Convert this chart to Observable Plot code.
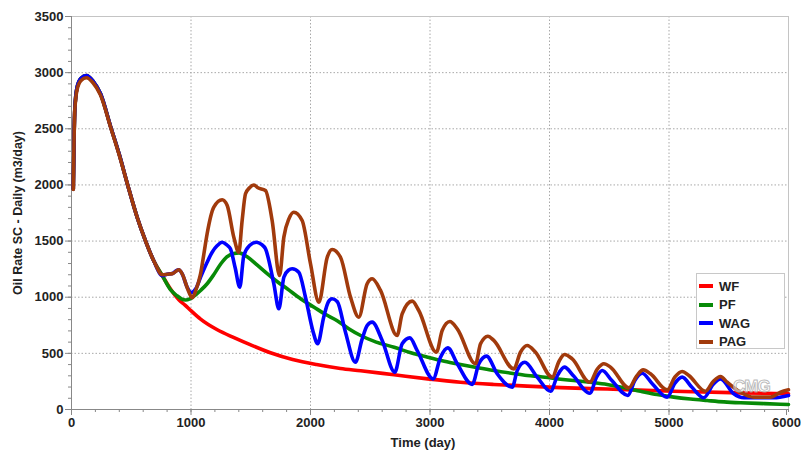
<!DOCTYPE html>
<html>
<head>
<meta charset="utf-8">
<script src="https://cdn.jsdelivr.net/npm/d3@7"></script>
<script src="https://cdn.jsdelivr.net/npm/@observablehq/plot@0.6"></script>
<style>
  body { margin: 0; background: #fff; font-family: "Liberation Sans", Arial, sans-serif; }
  #chart { position: relative; width: 801px; height: 451px; }
  .legend { position: absolute; left: 696px; top: 273px; width: 89px; height: 76px;
            border: 1px solid #c8c8c8; background: #fff; box-sizing: border-box; padding: 3px 0 0 2px; }
  .legend .row { display: flex; align-items: center; height: 18.5px; font-weight: bold; font-size: 13px; color: #222; }
  .legend .sw { width: 14px; height: 4px; margin-right: 6px; }
  .mark { position: absolute; left: 733px; top: 377px; font: bold 17px "Liberation Sans", Arial, sans-serif;
          color: rgba(255,255,255,0.55); -webkit-text-stroke: 1px rgba(170,170,170,0.8); letter-spacing: -1px; }
</style>
</head>
<body>
<div id="chart"></div>
<script>
// Oil rate (m3/day) against time (day) for four recovery schemes.
const seriesNames = ["WF", "PF", "WAG", "PAG"];
const seriesColors = ["#ff0000", "#078a07", "#0000ff", "#a13a0c"];

// Shared early decline, before the schemes part ways
const early = [
  [15, 1965], [22, 2450], [28, 2680], [47, 2870], [80, 2950], [125, 2975], [180, 2925],
  [243, 2812], [330, 2510], [400, 2270], [470, 2000], [550, 1710], [620, 1500], [690, 1320], [760, 1192]
];

const wfRate = [
  [830, 1070], [900, 975], [950, 930], [1000, 880], [1080, 805], [1220, 710], [1360, 640],
  [1500, 575], [1665, 505], [1850, 445], [2050, 400], [2250, 365], [2420, 345], [2700, 309],
  [2980, 273], [3255, 243], [3534, 223], [3813, 208], [4092, 195], [4483, 182], [5040, 163],
  [5600, 148], [6000, 140]
];

const pfRate = [
  [830, 1065], [880, 1015], [920, 985], [955, 975], [990, 985], [1020, 1005], [1080, 1060],
  [1135, 1120], [1190, 1200], [1250, 1298], [1300, 1360], [1360, 1390], [1400, 1395],
  [1470, 1360], [1550, 1290], [1640, 1208], [1720, 1140], [1805, 1075], [1920, 985],
  [2030, 911], [2120, 850], [2220, 793], [2320, 720], [2420, 659], [2550, 600], [2700, 555],
  [2840, 505], [2980, 466], [3120, 430], [3255, 401], [3400, 372], [3534, 347], [3680, 323],
  [3813, 303], [3925, 292], [4092, 270], [4203, 258], [4340, 242], [4483, 223], [4620, 195],
  [4762, 163], [4900, 133], [5040, 110], [5180, 93], [5320, 80], [5460, 68], [5600, 60],
  [5800, 52], [6000, 45]
];

const wagRate = [
  [800, 1205], [845, 1212], [875, 1235], [898, 1244], [925, 1210], [968, 1089], [1000, 1040],
  [1040, 1075], [1080, 1178], [1130, 1300], [1177, 1401], [1220, 1460], [1261, 1490],
  [1300, 1465], [1330, 1431], [1370, 1260], [1408, 1089], [1442, 1371], [1490, 1460],
  [1548, 1490], [1590, 1470], [1623, 1431], [1693, 1120], [1735, 897], [1777, 1178],
  [1815, 1240], [1847, 1253], [1902, 1223], [1958, 1000], [2020, 700], [2060, 585],
  [2110, 820], [2150, 960], [2181, 986], [2225, 960], [2290, 700], [2376, 421], [2430, 620],
  [2475, 750], [2516, 778], [2600, 615], [2705, 332], [2767, 585], [2831, 638], [2893, 525],
  [3026, 273], [3088, 466], [3149, 549], [3228, 407], [3353, 223], [3409, 407], [3473, 475],
  [3562, 318], [3688, 199], [3730, 347], [3793, 421], [3897, 288], [4008, 163], [4070, 310],
  [4125, 377], [4200, 300], [4337, 145], [4395, 290], [4441, 347], [4520, 260], [4655, 125],
  [4715, 260], [4775, 323], [4860, 230], [4985, 110], [5050, 235], [5110, 288], [5190, 200],
  [5291, 104], [5370, 225], [5431, 273], [5542, 140], [5626, 104], [5877, 104], [6000, 125]
];

const pagRate = [
  [800, 1205], [845, 1210], [898, 1244], [930, 1200], [970, 1080], [1010, 995], [1040, 1060],
  [1080, 1208], [1110, 1400], [1135, 1565], [1191, 1802], [1261, 1868], [1303, 1817],
  [1358, 1535], [1400, 1401], [1428, 1683], [1456, 1921], [1490, 1975], [1526, 2000],
  [1560, 1975], [1623, 1950], [1679, 1683], [1741, 1193], [1777, 1535], [1820, 1700],
  [1860, 1757], [1930, 1683], [2000, 1298], [2070, 956], [2140, 1356], [2181, 1425],
  [2251, 1356], [2335, 1000], [2404, 822], [2474, 1120], [2516, 1164], [2586, 1060],
  [2725, 659], [2767, 852], [2851, 965], [2906, 882], [3054, 510], [3102, 704], [3166, 784],
  [3228, 719], [3381, 407], [3423, 585], [3484, 653], [3534, 615], [3701, 362], [3757, 510],
  [3813, 570], [3883, 510], [4022, 288], [4080, 430], [4125, 490], [4190, 451], [4337, 243],
  [4400, 360], [4455, 407], [4511, 377], [4664, 193], [4730, 300], [4784, 353], [4845, 318],
  [4985, 175], [5050, 290], [5110, 338], [5166, 303], [5305, 163], [5370, 250], [5431, 294],
  [5487, 243], [5598, 154], [5710, 110], [5849, 110], [5933, 154], [6000, 175]
];

// PAG starts slightly under the others near the first peak
const pagEarly = [
  [15, 1960], [22, 2440], [28, 2670], [47, 2850], [80, 2930], [125, 2955], [180, 2910],
  [243, 2800], [330, 2505], [400, 2265], [470, 2000], [550, 1710], [620, 1500], [690, 1320], [760, 1200]
];

const xTicks = [0, 1000, 2000, 3000, 4000, 5000, 6000];
const yTicks = [0, 500, 1000, 1500, 2000, 2500, 3000, 3500];

const curves = {
  WF: early.concat(wfRate),
  PF: early.concat(pfRate),
  WAG: early.concat(wagRate),
  PAG: pagEarly.concat(pagRate)
};
const rows = seriesNames.flatMap(name => curves[name].map(([t, q]) => ({series: name, t, q})));

const grid = {stroke: "#a8a8a8", strokeOpacity: 1, strokeDasharray: "1.5,2", strokeWidth: 1};
const plain = d => String(d);

const chart = Plot.plot({
  width: 801,
  height: 451,
  marginLeft: 71,
  marginRight: 13,
  marginTop: 16,
  marginBottom: 42,
  style: {fontFamily: "'Liberation Sans', Arial, sans-serif", fontSize: "13px", fontWeight: "bold", color: "#222", background: "#fff"},
  x: {domain: [0, 6000]},
  y: {domain: [0, 3500]},
  color: {domain: seriesNames, range: seriesColors},
  marks: [
    Plot.gridX(xTicks.slice(1, -1), grid),
    Plot.gridY(yTicks.slice(1, -1), grid),
    Plot.frame({stroke: "#c4c4c4"}),
    Plot.ruleX([0], {stroke: "#888"}),
    Plot.ruleY([0], {stroke: "#888"}),
    Plot.axisX(d3.range(0, 6001, 200), {tickSize: 3, tickFormat: () => "", stroke: "#888", label: null}),
    Plot.axisY(d3.range(0, 3501, 100), {tickSize: 3, tickFormat: () => "", stroke: "#888", label: null}),
    Plot.axisX(xTicks.slice(0, -1), {tickSize: 6, tickPadding: 2, tickFormat: plain, stroke: "#888", fill: "#222", label: null}),
    Plot.axisX(xTicks.slice(-1), {tickSize: 6, tickPadding: 2, tickFormat: plain, stroke: "#888", fill: "#222", label: null, dx: -2}),
    Plot.axisY(yTicks, {tickSize: 6, tickPadding: 2, tickFormat: plain, stroke: "#888", fill: "#222", label: null}),
    Plot.line(rows, {x: "t", y: "q", z: "series", stroke: "series", strokeWidth: 3.6, curve: "monotone-x", strokeLinejoin: "round"}),
    Plot.text(["Time (day)"], {frameAnchor: "bottom", dx: -7, dy: 37, fontSize: 13, fontWeight: "bold", fill: "#222"}),
    Plot.text(["Oil Rate SC - Daily (m3/day)"], {frameAnchor: "left", textAnchor: "middle", rotate: -90, dx: -54, fontSize: 12.5, fontWeight: "bold", fill: "#222"})
  ]
});

const host = document.getElementById("chart");
host.appendChild(chart);

// Legend box in the lower right of the plot area
const legend = document.createElement("div");
legend.className = "legend";
seriesNames.forEach((name, i) => {
  const row = document.createElement("div");
  row.className = "row";
  const sw = document.createElement("span");
  sw.className = "sw";
  sw.style.background = seriesColors[i];
  row.appendChild(sw);
  row.appendChild(document.createTextNode(name));
  legend.appendChild(row);
});
host.appendChild(legend);

const logo = document.createElement("div");
logo.className = "mark";
logo.textContent = "CMG";
host.appendChild(logo);
</script>
</body>
</html>
